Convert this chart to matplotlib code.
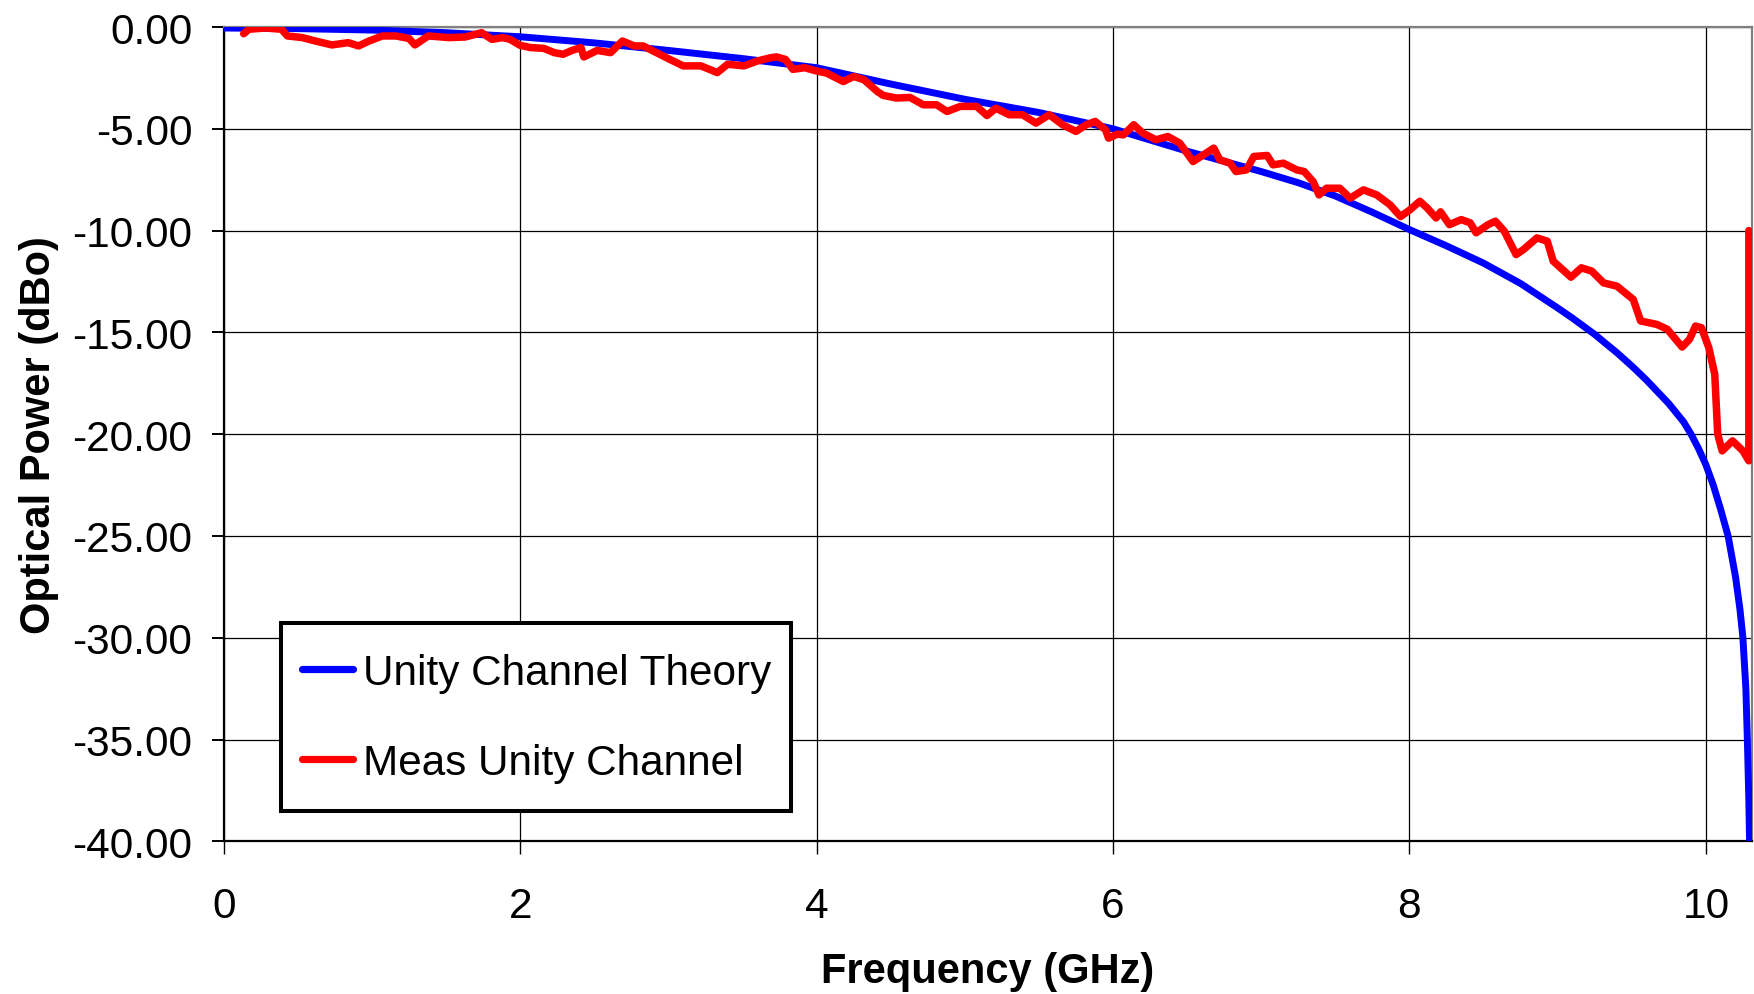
import matplotlib
matplotlib.use("Agg")
import matplotlib.pyplot as plt
from matplotlib.patches import Rectangle
from matplotlib.ticker import FormatStrFormatter, MultipleLocator

plt.rcParams['font.family'] = ['Liberation Sans', 'DejaVu Sans']
plt.rcParams['axes.unicode_minus'] = False

# Theory curve (GHz, dBo)
theory_freq = [0.0, 0.5, 1.0, 1.5, 2.0, 2.5, 3.0, 3.5, 4.0, 4.5, 5.0, 5.5, 6.0, 6.5,
               7.0, 7.25, 7.5, 7.75, 8.0, 8.25, 8.5, 8.75, 9.0, 9.1, 9.25, 9.4, 9.5,
               9.6, 9.75, 9.85, 9.9, 9.95, 10.0, 10.05, 10.1, 10.15, 10.2, 10.23, 10.25,
               10.27, 10.28, 10.29, 10.295]
theory_db = [-0.05, -0.08, -0.15, -0.28, -0.48, -0.78, -1.15, -1.55, -2.0, -2.8, -3.55,
             -4.2, -5.0, -6.1, -7.1, -7.65, -8.3, -9.1, -9.95, -10.75, -11.6, -12.6,
             -13.8, -14.3, -15.1, -16.0, -16.65, -17.35, -18.5, -19.4, -20.0, -20.7,
             -21.5, -22.5, -23.7, -25.0, -27.0, -28.6, -30.0, -32.5, -35.0, -38.0, -40.0]

# Measured curve (GHz, dBo)
meas_freq = [0.135, 0.17, 0.28, 0.39, 0.43, 0.53, 0.62, 0.73, 0.84, 0.91, 0.98, 1.07,
             1.16, 1.25, 1.29, 1.38, 1.52, 1.63, 1.74, 1.81, 1.88, 1.93, 1.97, 2.0,
             2.07, 2.16, 2.23, 2.29, 2.35, 2.41, 2.43, 2.52, 2.61, 2.69, 2.77, 2.83,
             2.92, 3.01, 3.10, 3.22, 3.33, 3.40, 3.51, 3.60, 3.69, 3.73, 3.79, 3.84,
             3.92, 4.0, 4.07, 4.18, 4.25, 4.32, 4.41, 4.45, 4.54, 4.63, 4.72, 4.81,
             4.88, 4.97, 5.08, 5.15, 5.21, 5.30, 5.39, 5.48, 5.57, 5.66, 5.75, 5.82,
             5.88, 5.95, 5.97, 6.03, 6.07, 6.14, 6.2, 6.29, 6.37, 6.45, 6.54, 6.61,
             6.68, 6.72, 6.79, 6.83, 6.9, 6.95, 7.04, 7.08, 7.15, 7.24, 7.29, 7.35,
             7.39, 7.44, 7.53, 7.6, 7.69, 7.78, 7.87, 7.94, 8.0, 8.07, 8.12, 8.18,
             8.21, 8.27, 8.35, 8.41, 8.45, 8.53, 8.58, 8.64, 8.72, 8.77, 8.86, 8.93,
             8.97, 9.09, 9.16, 9.23, 9.31, 9.4, 9.51, 9.56, 9.67, 9.74, 9.84, 9.89,
             9.93, 9.97, 10.02, 10.06, 10.08, 10.11, 10.18, 10.25, 10.29, 10.29]
meas_db = [-0.33, -0.11, -0.05, -0.11, -0.44, -0.52, -0.69, -0.88, -0.77, -0.93, -0.69,
           -0.44, -0.44, -0.56, -0.88, -0.44, -0.52, -0.49, -0.28, -0.61, -0.52, -0.6,
           -0.77, -0.9, -1.01, -1.05, -1.26, -1.34, -1.15, -1.01, -1.47, -1.15, -1.26,
           -0.69, -0.93, -0.93, -1.26, -1.59, -1.91, -1.91, -2.24, -1.83, -1.91, -1.67,
           -1.51, -1.47, -1.59, -2.08, -2.0, -2.16, -2.27, -2.68, -2.43, -2.59, -3.17,
           -3.36, -3.49, -3.46, -3.82, -3.82, -4.15, -3.9, -3.9, -4.35, -3.99, -4.31,
           -4.31, -4.72, -4.31, -4.8, -5.13, -4.8, -4.64, -5.05, -5.46, -5.26, -5.3,
           -4.8, -5.21, -5.54, -5.38, -5.7, -6.61, -6.28, -5.95, -6.52, -6.69, -7.1,
           -7.02, -6.36, -6.31, -6.77, -6.69, -7.02, -7.1, -7.59, -8.25, -7.92, -7.92,
           -8.41, -8.0, -8.25, -8.74, -9.31, -9.0, -8.56, -8.89, -9.38, -9.08, -9.71,
           -9.46, -9.62, -10.11, -9.71, -9.54, -10.03, -11.18, -10.93, -10.36, -10.52,
           -11.5, -12.29, -11.83, -11.99, -12.57, -12.73, -13.38, -14.44, -14.61,
           -14.85, -15.72, -15.34, -14.69, -14.77, -15.75, -17.06, -20.0, -20.82,
           -20.33, -20.82, -21.31, -10.0]

series_labels = ["Unity Channel Theory", "Meas Unity Channel"]
x_ticks = [0, 2, 4, 6, 8, 10]

W, H = 1754, 995
fig = plt.figure(figsize=(W / 100, H / 100), dpi=100)
ax = fig.add_axes([223.7 / W, 1 - 842.3 / H, (1751.8 - 223.7) / W, (842.3 - 28) / H])

ax.plot(theory_freq, theory_db, color='#0000FF', lw=5.0, solid_capstyle='round',
        solid_joinstyle='round', label=series_labels[0], zorder=3)
ax.plot(meas_freq, meas_db, color='#FF0000', lw=5.4, solid_capstyle='round',
        solid_joinstyle='round', label=series_labels[1], zorder=4)

ax.set_xlim(0, 10.31)
ax.set_ylim(-40, 0)
ax.set_xticks(x_ticks)
ax.yaxis.set_major_locator(MultipleLocator(5))
ax.yaxis.set_major_formatter(FormatStrFormatter('%.2f'))

ax.grid(True, color='black', lw=0.9, zorder=1)
ax.set_axisbelow(True)

for side in ['left', 'bottom']:
    ax.spines[side].set_color('black')
    ax.spines[side].set_linewidth(1.6)
for side in ['top', 'right']:
    ax.spines[side].set_color('#808080')
    ax.spines[side].set_linewidth(1.6)

ax.tick_params(axis='y', direction='out', length=8.6, width=1.4, pad=14, labelsize=30.5)
ax.tick_params(axis='x', direction='out', length=9, width=1.0, pad=23, labelsize=30.5)

ax.set_xlabel('Frequency (GHz)', fontsize=30, fontweight='bold')
ax.set_ylabel('Optical Power (dBo)', fontsize=30, fontweight='bold')
ax.xaxis.set_label_coords(0.5, -0.1345)
ax.yaxis.set_label_coords(-0.108, 0.5)

# legend box (frame drawn separately in figure pixels)
frame = Rectangle((280.8 / W, 1 - 812 / H), (790.9 - 280.8) / W, (812 - 624) / H,
                  transform=fig.transFigure, facecolor='white', edgecolor='black',
                  linewidth=2.9, zorder=5)
ax.add_artist(frame)
frame.set_clip_on(False)

leg = ax.legend(loc='upper left', bbox_to_anchor=(281 / W, 1 - 633 / H),
                bbox_transform=fig.transFigure, borderaxespad=0, fontsize=30.4,
                frameon=False, handlelength=1.2, handletextpad=0.24,
                labelspacing=1.17, borderpad=0.5)
leg.set_zorder(6)
for line in leg.get_lines():
    line.set_linewidth(5.2)

fig.savefig('out.png', dpi=100, facecolor='white')
